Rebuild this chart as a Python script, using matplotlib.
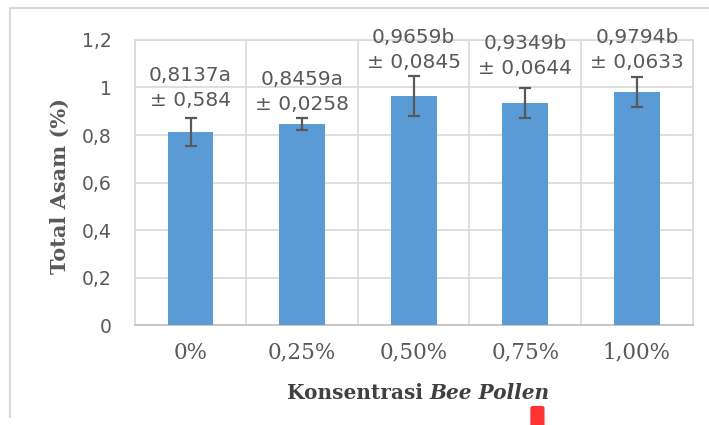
import matplotlib
matplotlib.use('Agg')
import matplotlib.pyplot as plt
import matplotlib.ticker as mticker
from matplotlib.patches import FancyBboxPatch
from matplotlib.lines import Line2D
import numpy as np

# data
categories = ["0%", "0,25%", "0,50%", "0,75%", "1,00%"]
total_asam = [0.8137, 0.8459, 0.9659, 0.9349, 0.9794]
err = [0.0584, 0.0258, 0.0845, 0.0644, 0.0633]
letters = ["a", "a", "b", "b", "b"]
err_text = ["0,584", "0,0258", "0,0845", "0,0644", "0,0633"]

# where Excel put each data label (data units, centre of the 2-line block)
label_y = [0.998, 0.982, 1.158, 1.132, 1.158]

bar_color = "#5B9BD5"
grid_color = "#D9D9D9"
txt_gray = "#404040"
tick_gray = "#595959"

fig = plt.figure(figsize=(7.09, 4.25), dpi=100)
ax = fig.add_axes([0.190, 0.235, 0.787, 0.671])

x = np.arange(len(categories))
ax.bar(x, total_asam, width=0.41, color=bar_color, zorder=3)
ax.errorbar(x, total_asam, yerr=err, fmt="none", ecolor=tick_gray,
            elinewidth=1.6, capsize=4, capthick=1.6, zorder=4)

for i, v in enumerate(total_asam):
    s = f"{v:.4f}".replace(".", ",") + letters[i] + "\n± " + err_text[i]
    ax.text(i, label_y[i], s, ha="center", va="center", fontsize=14.5,
            color=tick_gray, family="DejaVu Sans", linespacing=1.4, zorder=5)

ax.set_xlim(-0.5, 4.5)
ax.set_ylim(0, 1.2)
ax.set_yticks(np.arange(0, 1.21, 0.2))
ax.yaxis.set_major_formatter(mticker.FuncFormatter(
    lambda v, p: ("%g" % round(v, 1)).replace(".", ",")))
ax.set_xticks(x)
ax.set_xticklabels(categories, family="DejaVu Serif", fontsize=15.5, color=tick_gray)
for lab in ax.get_yticklabels():
    lab.set_family("DejaVu Sans")
    lab.set_fontsize(13.5)
    lab.set_color(tick_gray)
ax.tick_params(axis="x", length=0, pad=12)
ax.tick_params(axis="y", length=0, pad=16.5)

# vertical grid at category boundaries
ax.set_xticks(np.arange(-0.5, 4.6, 1), minor=True)
ax.grid(True, which="minor", axis="x", color=grid_color, lw=1.2, zorder=0)
ax.grid(True, which="major", axis="y", color=grid_color, lw=1.2, zorder=0)
ax.tick_params(which="minor", length=0)
for sp in ax.spines.values():
    sp.set_color(grid_color)
    sp.set_linewidth(1.2)
ax.spines["bottom"].set_color("#BFBFBF")

fig.text(0.084, 0.562, "Total Asam (%)", rotation=90, ha="center", va="center",
         family="DejaVu Serif", fontweight="bold", fontsize=15, color=tick_gray)
fig.text(0.606, 0.075, "Konsentrasi ", ha="right", va="center",
         family="DejaVu Serif", fontweight="bold", fontsize=14.5, color=txt_gray)
fig.text(0.606, 0.075, "Bee Pollen", ha="left", va="center",
         family="DejaVu Serif", fontweight="bold", style="italic",
         fontsize=14.5, color=txt_gray)

# page frame lines and the red marker in the screenshot
fig.add_artist(Line2D([0.014, 1.0], [0.981, 0.981], color=grid_color, lw=1.5))
fig.add_artist(Line2D([0.014, 0.014], [0.02, 0.981], color=grid_color, lw=1.5))
fig.add_artist(FancyBboxPatch((0.748, -0.01), 0.02, 0.055,
                              boxstyle="round,pad=0,rounding_size=0.005",
                              facecolor="#FF3333", edgecolor="none"))

plt.savefig("out.png", dpi=100)
plt.close()
